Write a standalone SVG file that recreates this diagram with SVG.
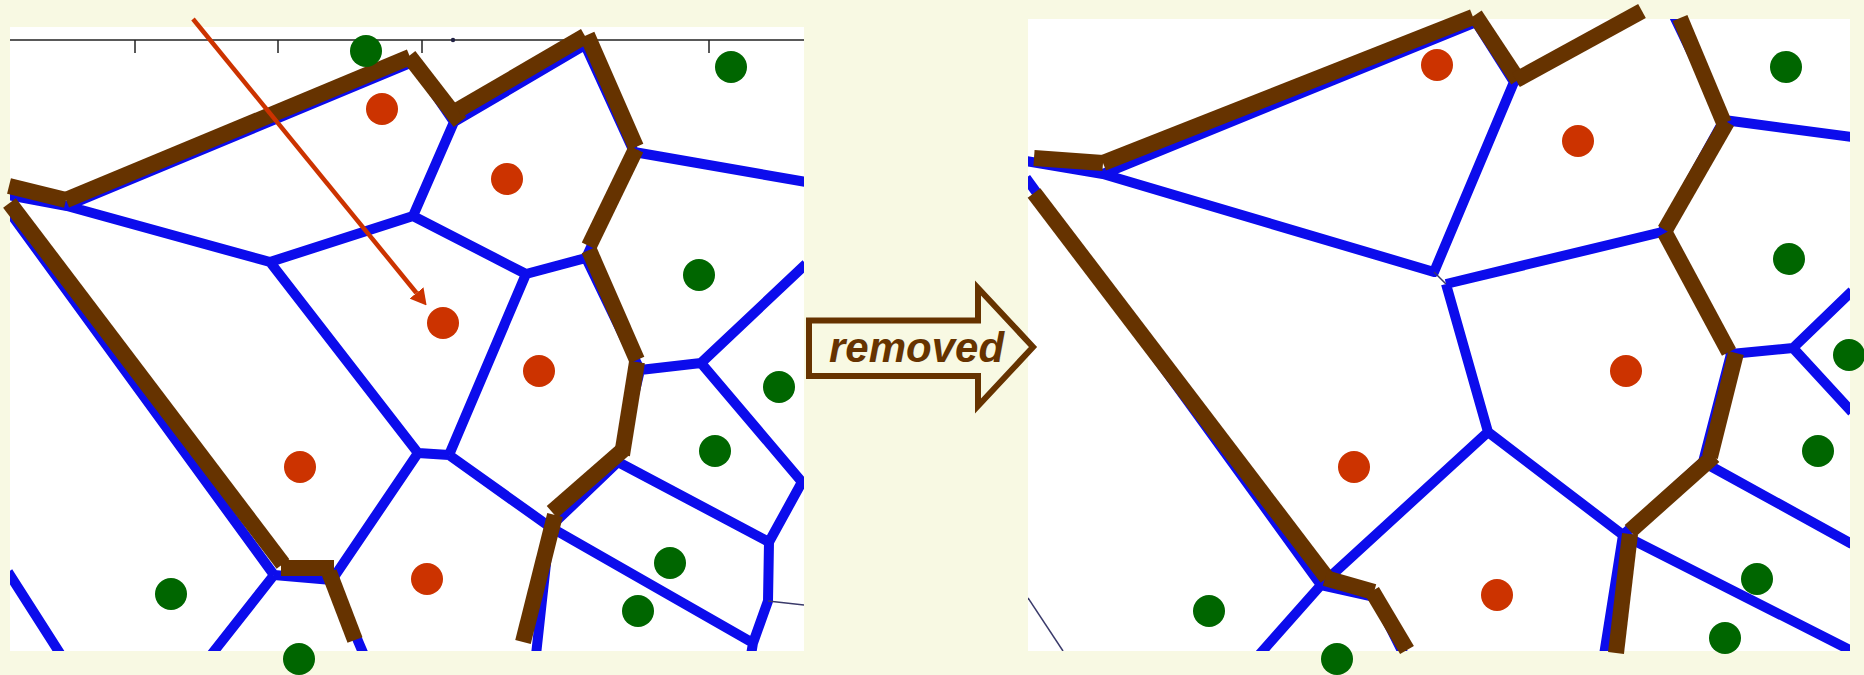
<svg xmlns="http://www.w3.org/2000/svg" width="1864" height="675" viewBox="0 0 1864 675">
<style>
.panel{fill:#ffffff}
.v{stroke:#0c0cec;stroke-width:10;fill:none;stroke-linecap:butt;stroke-linejoin:round}
.thin{stroke:#3a3a6a;stroke-width:1.5;fill:none}
.rm{stroke:#663300;stroke-width:16;fill:none;stroke-linecap:butt}
.red{fill:#cc3300}
.green{fill:#006600}
.axis{stroke:#222222;stroke-width:1.5;fill:none}
.ptr{stroke:#cc3300;stroke-width:4.5;fill:none}
.lbl{font-family:"Liberation Sans",Arial,sans-serif;font-weight:bold;font-style:italic;font-size:42px;fill:#663300}
</style>
<defs>
<clipPath id="clipL"><rect x="10" y="27" width="794" height="624"/></clipPath>
<clipPath id="clipR"><rect x="1028" y="19" width="822" height="632"/></clipPath>
<marker id="redhead" viewBox="0 0 16 18" refX="0" refY="9" markerWidth="16" markerHeight="18" markerUnits="userSpaceOnUse" orient="auto">
<path d="M0,0 L16,9 L0,18 Z" fill="#cc3300"/>
</marker>
</defs>
<rect x="0" y="0" width="1864" height="675" fill="#f8f9e3"/>

<!-- LEFT PANEL -->
<g id="left-panel">
<rect class="panel" x="10" y="27" width="794" height="624"/>
<g id="left-axis">
<line class="axis" x1="10" y1="40" x2="804" y2="40"/>
<line class="axis" x1="135" y1="40" x2="135" y2="53"/>
<line class="axis" x1="278" y1="40" x2="278" y2="53"/>
<line class="axis" x1="422" y1="40" x2="422" y2="53"/>
<line class="axis" x1="709" y1="40" x2="709" y2="53"/>
<circle cx="453" cy="40" r="2.2" fill="#222244"/>
</g>
<g id="left-voronoi" clip-path="url(#clipL)">
<path class="v" d="M8,195 L67,206 L413,62 L454,122 L413,216 M454,122 L585,45 L634,152 L806,182 M634,152 L586,258 L526,274 M586,258 L640,370 M67,206 L270,262 L413,216 L526,274 L449,455 M270,262 L418,453 L449,455 M418,453 L332,580 L274,575 M332,580 L364,655 M274,575 L211,655 M8,210 L274,575 M8,572 L61,655 M449,455 L550,527 L618,462 L640,370 L701,363 L806,264 M701,363 L802,482 L769,542 L618,462 M769,542 L768,601 L753,643 L550,527 M753,643 L751,655 M550,527 L536,655"/>
<line class="thin" x1="768" y1="601" x2="804" y2="605"/>
</g>
<g id="left-removed-edges">
<line class="rm" x1="9" y1="186" x2="66" y2="200"/>
<line class="rm" x1="66" y1="200" x2="410" y2="57"/>
<line class="rm" x1="409" y1="56" x2="460" y2="122"/>
<line class="rm" x1="458" y1="110" x2="585" y2="36"/>
<line class="rm" x1="587" y1="35" x2="636" y2="147"/>
<line class="rm" x1="636" y1="149" x2="589" y2="246"/>
<line class="rm" x1="589" y1="250" x2="637" y2="360"/>
<line class="rm" x1="637" y1="362" x2="622" y2="455"/>
<line class="rm" x1="623" y1="450" x2="552" y2="512"/>
<line class="rm" x1="555" y1="515" x2="523" y2="642"/>
<line class="rm" x1="9.5" y1="203" x2="283" y2="564"/>
<line class="rm" x1="281" y1="568" x2="334" y2="568"/>
<line class="rm" x1="329" y1="572" x2="355" y2="640"/>
</g>
<g id="left-sites">
<circle class="green" cx="366" cy="51" r="16"/>
<circle class="green" cx="731" cy="67" r="16"/>
<circle class="green" cx="699" cy="275" r="16"/>
<circle class="green" cx="779" cy="387" r="16"/>
<circle class="green" cx="715" cy="451" r="16"/>
<circle class="green" cx="670" cy="563" r="16"/>
<circle class="green" cx="638" cy="611" r="16"/>
<circle class="green" cx="171" cy="594" r="16"/>
<circle class="green" cx="299" cy="659" r="16"/>
<circle class="red" cx="382" cy="109" r="16"/>
<circle class="red" cx="507" cy="179" r="16"/>
<circle class="red" cx="443" cy="323" r="16"/>
<circle class="red" cx="539" cy="371" r="16"/>
<circle class="red" cx="300" cy="467" r="16"/>
<circle class="red" cx="427" cy="579" r="16"/>
</g>
</g>

<!-- RIGHT PANEL -->
<g id="right-panel">
<rect class="panel" x="1028" y="19" width="822" height="632"/>
<g id="right-voronoi" clip-path="url(#clipR)">
<path class="v" d="M1026,161 L1103,174 L1476,22 L1514,82 L1634,16 M1514,82 L1434,272 L1103,174 M1446,284 L1662,232 L1724,120 L1674,16 M1724,120 L1852,137 M1662,232 L1731,354 L1793,348 L1852,291 M1793,348 L1852,412 M1731,354 L1703,462 L1852,544 M1703,462 L1623,535 L1488,432 L1446,284 M1623,535 L1852,651 M1623,535 L1604,655 M1488,432 L1321,585 L1026,178 M1321,585 L1375,597 L1404,655 M1321,585 L1259,655"/>
<line class="thin" x1="1434" y1="272" x2="1446" y2="284"/>
<line class="thin" x1="1028" y1="598" x2="1063" y2="651"/>
</g>
<g id="right-removed-edges">
<line class="rm" x1="1034" y1="158" x2="1103" y2="163"/>
<line class="rm" x1="1103" y1="163" x2="1473" y2="17"/>
<line class="rm" x1="1475" y1="15" x2="1518" y2="80"/>
<line class="rm" x1="1516" y1="80" x2="1642" y2="11"/>
<line class="rm" x1="1680" y1="18" x2="1724" y2="123"/>
<line class="rm" x1="1727" y1="122" x2="1665" y2="230"/>
<line class="rm" x1="1665" y1="233" x2="1729" y2="352"/>
<line class="rm" x1="1736" y1="353" x2="1710" y2="457"/>
<line class="rm" x1="1714" y1="456" x2="1630" y2="531"/>
<line class="rm" x1="1630" y1="534" x2="1616" y2="653"/>
<line class="rm" x1="1034" y1="193" x2="1327" y2="578"/>
<line class="rm" x1="1325" y1="578" x2="1374" y2="592"/>
<line class="rm" x1="1372" y1="591" x2="1407" y2="650"/>
</g>
<g id="right-sites">
<circle class="red" cx="1437" cy="65" r="16"/>
<circle class="red" cx="1578" cy="141" r="16"/>
<circle class="red" cx="1626" cy="371" r="16"/>
<circle class="red" cx="1354" cy="467" r="16"/>
<circle class="red" cx="1497" cy="595" r="16"/>
<circle class="green" cx="1786" cy="67" r="16"/>
<circle class="green" cx="1789" cy="259" r="16"/>
<circle class="green" cx="1849" cy="355" r="16"/>
<circle class="green" cx="1818" cy="451" r="16"/>
<circle class="green" cx="1757" cy="579" r="16"/>
<circle class="green" cx="1725" cy="638" r="16"/>
<circle class="green" cx="1209" cy="611" r="16"/>
<circle class="green" cx="1337" cy="659" r="16"/>
</g>
</g>

<!-- removed arrow node -->
<g id="removed-arrow">
<path d="M809,320.5 H978 V288 L1033,347 L978,406 V376 H809 Z" fill="#f8f9e3" stroke="#663300" stroke-width="6" stroke-linejoin="miter"/>
<text class="lbl" x="829" y="362">removed</text>
</g>

<!-- connectors -->
<g id="connectors">
<line class="ptr" x1="193" y1="19" x2="416.5" y2="293" marker-end="url(#redhead)"/>
</g>
</svg>
